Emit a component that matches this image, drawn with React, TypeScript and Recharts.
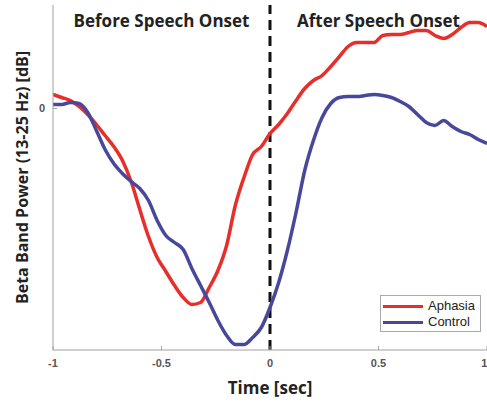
import React from 'react';
import { LineChart, Line, XAxis, YAxis, ReferenceLine, Legend, Label } from 'recharts';

const timeSec = [
  -1.0, -0.96, -0.92, -0.88, -0.84, -0.8, -0.76, -0.72, -0.68, -0.64,
  -0.6, -0.56, -0.52, -0.48, -0.44, -0.4, -0.36, -0.32, -0.28, -0.24,
  -0.2, -0.16, -0.12, -0.08, -0.04, 0.0, 0.04, 0.08, 0.12, 0.16,
  0.2, 0.24, 0.28, 0.32, 0.36, 0.4, 0.44, 0.48, 0.52, 0.56,
  0.6, 0.64, 0.68, 0.72, 0.76, 0.8, 0.84, 0.88, 0.92, 0.96, 1.0,
];

const aphasiaPower = [
  0.14, 0.11, 0.08, 0.02, -0.06, -0.16, -0.27, -0.38, -0.52, -0.73,
  -1.01, -1.28, -1.49, -1.63, -1.77, -1.89, -1.96, -1.94, -1.79, -1.62,
  -1.37, -0.97, -0.69, -0.46, -0.38, -0.25, -0.16, -0.05, 0.08, 0.2,
  0.28, 0.33, 0.42, 0.52, 0.62, 0.66, 0.66, 0.66, 0.73, 0.74,
  0.74, 0.76, 0.78, 0.78, 0.73, 0.7, 0.74, 0.81, 0.86, 0.86, 0.82,
];

const controlPower = [
  0.04, 0.04, 0.06, 0.05, -0.04, -0.22, -0.41, -0.55, -0.65, -0.73,
  -0.8, -0.92, -1.12, -1.27, -1.34, -1.41, -1.6, -1.77, -1.94, -2.12,
  -2.27, -2.36, -2.36, -2.29, -2.19, -1.99, -1.74, -1.42, -1.04, -0.62,
  -0.32, -0.09, 0.05, 0.11, 0.12, 0.12, 0.13, 0.14, 0.13, 0.11,
  0.07, 0.02, -0.06, -0.14, -0.17, -0.12, -0.18, -0.23, -0.26, -0.31, -0.35,
];

const xTicks = [-1, -0.5, 0, 0.5, 1];
const xTickLabels = ['-1', '-0.5', '0', '0.5', '1'];
const yTicks = [0];
const yDomain = [-2.415, 1.035];
const seriesNames = ['Aphasia', 'Control'];
const seriesColors = ['#e62e2b', '#48489a'];
const phaseLabels = ['Before Speech Onset', 'After Speech Onset'];
const phaseCenters = [-0.5, 0.5];
const onsetTime = 0;

const data = timeSec.map((t, i) => ({
  t,
  aphasia: aphasiaPower[i],
  control: controlPower[i],
}));

const boldFont = '"Open Sans", "DejaVu Sans", sans-serif';
const plainFont = '"Liberation Sans", Arial, sans-serif';
const axisGray = '#a0a0a0';

const LegendBox = () => (
  <div
    style={{
      border: '1px solid #aaa',
      background: '#fff',
      padding: '2px 4px 1px 2px',
      fontFamily: plainFont,
      fontSize: 13,
      color: '#222',
      boxSizing: 'border-box',
    }}
  >
    {seriesNames.map((name, i) => (
      <div key={name} style={{ display: 'flex', alignItems: 'center', height: 16 }}>
        <div style={{ width: 40, height: 3, background: seriesColors[i], marginRight: 5 }} />
        <span style={{ lineHeight: '16px' }}>{name}</span>
      </div>
    ))}
  </div>
);

export default function App() {
  return (
    <div style={{ position: 'absolute', left: 0, top: 0, width: 487, height: 404, background: '#fff' }}>
      <LineChart width={487} height={404} data={data} margin={{ top: 5, right: 0, bottom: 0, left: 0 }}>
        <XAxis
          xAxisId="b"
          dataKey="t"
          type="number"
          domain={[-1, 1]}
          ticks={xTicks}
          tickFormatter={(v: number) => xTickLabels[xTicks.indexOf(v)] ?? String(v)}
          height={54}
          stroke={axisGray}
          tickSize={-4}
          tickMargin={13}
          tick={{ fill: '#555', fontSize: 11, fontFamily: plainFont, fontWeight: 'bold' }}
          allowDataOverflow
        >
          <Label
            value="Time [sec]"
            position="insideBottom"
            offset={10}
            fill="#222"
            fontSize={17}
            fontWeight="bold"
            fontFamily={boldFont}
          />
        </XAxis>
        <XAxis
          xAxisId="t"
          orientation="top"
          dataKey="t"
          type="number"
          domain={[-1, 1]}
          ticks={xTicks}
          height={0}
          tick={false}
          tickSize={-4}
          stroke={axisGray}
          allowDataOverflow
        />
        <YAxis
          yAxisId="l"
          type="number"
          domain={yDomain}
          ticks={yTicks}
          width={53}
          stroke={axisGray}
          tickSize={-4}
          tickMargin={12}
          tick={{ fill: '#555', fontSize: 11, fontFamily: plainFont, fontWeight: 'bold' }}
          allowDataOverflow
        >
          <Label
            value="Beta Band Power (13-25 Hz) [dB]"
            position="center"
            angle={-90}
            dx={-4.5}
            fill="#222"
            fontSize={16}
            fontWeight="bold"
            fontFamily={boldFont}
          />
        </YAxis>
        <YAxis
          yAxisId="r"
          orientation="right"
          type="number"
          domain={yDomain}
          ticks={yTicks}
          width={0}
          stroke={axisGray}
          tickSize={-4}
          tick={false}
          allowDataOverflow
        />
        {phaseLabels.map((txt, i) => (
          <ReferenceLine
            key={txt}
            xAxisId="b"
            yAxisId="l"
            x={phaseCenters[i]}
            stroke="none"
            label={{
              value: txt,
              position: 'insideTop',
              offset: 10,
              fill: '#222',
              fontSize: 17,
              fontWeight: 'bold',
              fontFamily: boldFont,
            }}
          />
        ))}
        <ReferenceLine
          xAxisId="b"
          yAxisId="l"
          x={onsetTime}
          stroke="#111"
          strokeWidth={3}
          strokeDasharray="10 6"
        />
        <Line
          xAxisId="b"
          yAxisId="l"
          dataKey="aphasia"
          name={seriesNames[0]}
          stroke={seriesColors[0]}
          strokeWidth={3.5}
          dot={false}
          type="monotone"
          isAnimationActive={false}
        />
        <Line
          xAxisId="b"
          yAxisId="l"
          dataKey="control"
          name={seriesNames[1]}
          stroke={seriesColors[1]}
          strokeWidth={3.5}
          dot={false}
          type="monotone"
          isAnimationActive={false}
        />
        <Legend
          layout="vertical"
          align="center"
          verticalAlign="middle"
          content={() => <LegendBox />}
          wrapperStyle={{ position: 'absolute', left: 380, top: 295, width: 101, height: 35, bottom: 'auto', right: 'auto', margin: 0 }}
        />
      </LineChart>
    </div>
  );
}
